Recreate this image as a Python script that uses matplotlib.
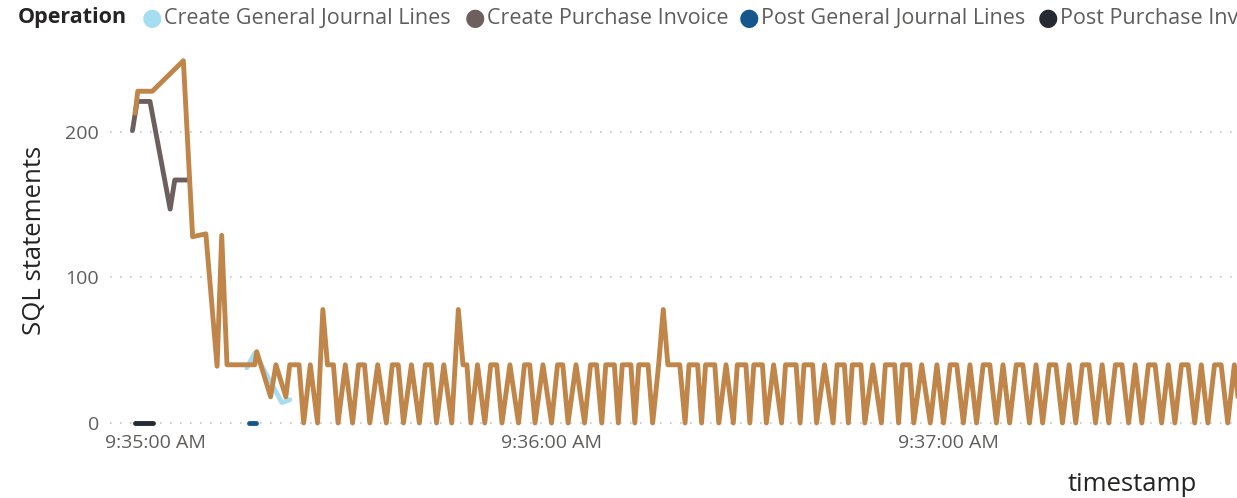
import matplotlib
matplotlib.use("Agg")
import matplotlib.pyplot as plt

plt.rcParams["font.family"] = ["Open Sans", "DejaVu Sans"]

# seconds after 9:35:00 AM
cpi_secs = [-3.4, -2.7, -0.75, 2.3, 3.0, 4.9]
cpi_sql = [201, 221, 221, 147, 167, 167]

cgj_secs = [13.9, 15.1, 19.2, 20.4]
cgj_sql = [38, 48, 14, 16]

pgj_secs = [14.2, 15.3]
pgj_sql = [0, 0]

ppi_secs = [-3.0, -0.3]
ppi_sql = [0, 0]

# the brown series (its legend entry is cut off at the right edge)
other_secs = [
    -3.0, -2.6, -0.4, 4.3, 5.7, 7.7, 9.4, 10.1, 10.9, 15.1, 15.4, 17.5, 18.3, 19.8, 20.4, 21.8, 22.5,
    23.5, 24.6, 25.4, 26.1, 27.0, 27.7, 28.8, 29.9, 30.8, 31.7, 32.5, 33.7, 35.0, 35.9, 36.8, 37.6,
    38.8, 40.0, 40.9, 41.8, 42.6, 43.7, 44.9, 45.9, 46.6, 47.2, 47.8, 48.8, 49.9, 50.8, 51.7, 52.5,
    53.7, 55.0, 55.9, 56.7, 57.5, 58.7, 60.0, 60.9, 61.7, 62.5, 63.7, 65.0, 65.9, 66.8, 67.6,
    68.2, 69.5, 70.1, 70.7, 72.0, 72.6, 73.2, 74.6, 75.3, 76.2, 76.9, 77.6, 79.4, 80.2, 80.8, 82.1,
    82.7, 83.3, 84.7, 85.3, 86.4, 87.5, 88.1, 89.4, 90.0, 90.6, 91.9, 92.5, 93.6, 94.8, 95.4, 97.0,
    97.6, 98.2, 99.5, 100.1, 101.3, 102.6, 103.2, 104.3, 104.9, 105.5, 106.8, 107.4, 108.6, 109.9,
    110.5, 111.9, 112.5, 113.1, 114.2, 114.8, 116.0, 117.3,
    118.3, 119.3, 120.3, 121.3, 122.3, 123.3, 124.3, 125.3, 126.3, 127.3, 128.3, 129.3, 130.3, 131.3,
    132.3, 133.3, 134.3, 135.3, 136.3, 137.3, 138.3, 139.3, 140.3, 141.3, 142.3, 143.3, 144.3, 145.3,
    146.3, 147.3, 148.3, 149.3, 150.3, 151.3, 152.3, 153.3, 154.3, 155.3, 156.3, 157.3, 158.3, 159.3,
    160.3, 161.3, 162.3, 163.3, 164.3, 165.3,
]
other_sql = [
    213, 228, 228, 249, 128, 130, 39, 129, 40, 40, 49, 18, 40, 18, 40, 40, 0,
    40, 0, 78, 40, 40, 0, 40, 0, 40, 40, 0, 40, 0, 40, 40, 0,
    40, 0, 40, 40, 0, 40, 0, 78, 40, 40, 0, 40, 0, 40, 40, 0,
    40, 0, 40, 40, 0, 40, 0, 40, 40, 0, 40, 0, 40, 40, 0,
    40, 40, 0, 40, 40, 0, 40, 40, 0, 40, 78, 40, 40, 0, 40, 40,
    0, 40, 40, 0, 40, 0, 40, 40, 0, 40, 40, 0, 40, 0, 40, 40,
    0, 40, 40, 0, 40, 0, 40, 40, 0, 40, 40, 0, 40, 0,
    40, 40, 0, 40, 40, 0, 40, 0,
    40, 0, 40, 40, 0, 40, 0, 40, 40, 0, 40, 0, 40, 40,
    0, 40, 0, 40, 40, 0, 40, 0, 40, 40, 0, 40, 0, 40,
    40, 0, 40, 0, 40, 40, 0, 40, 0, 40, 40, 0, 40, 0,
    40, 40, 0, 40, 0, 40,
]

tick_secs = [0, 60, 120]
tick_labels = ["9:35:00 AM", "9:36:00 AM", "9:37:00 AM"]
y_ticks = [0, 100, 200]

legend_names = ["Create General Journal Lines", "Create Purchase Invoice",
                "Post General Journal Lines", "Post Purchase Invoice"]
legend_colors = ["#A6DDF0", "#6E5F5F", "#15568C", "#252A33"]
other_color = "#BF8549"

W, H = 1237, 498
fig = plt.figure(figsize=(W / 100, H / 100), dpi=100)
ax = fig.add_axes([110 / W, 1 - 428.8 / H, 1127 / W, 384.1 / H])

kw = dict(lw=3.5, solid_joinstyle="round", solid_capstyle="round")
ax.plot(ppi_secs, ppi_sql, color=legend_colors[3], zorder=2, **kw)
ax.plot(pgj_secs, pgj_sql, color=legend_colors[2], zorder=2, **kw)
ax.plot(cpi_secs, cpi_sql, color=legend_colors[1], zorder=3, **kw)
ax.plot(cgj_secs, cgj_sql, color=legend_colors[0], zorder=3, **kw)
ax.plot(other_secs, other_sql, color=other_color, zorder=4, **kw)

ax.set_xlim(-6.8, 163.7)
ax.set_ylim(-4, 260)
ax.set_xticks(tick_secs)
ax.set_xticklabels(tick_labels)
ax.set_yticks(y_ticks)
ax.tick_params(length=0, labelsize=14, colors="#605E5C")
ax.tick_params(axis="x", pad=3.5)
ax.tick_params(axis="y", pad=8)
ax.grid(axis="y", color="#C8C6C4", linestyle=(0, (1, 5)), lw=1.2)
for s in ax.spines.values():
    s.set_visible(False)

ax.set_ylabel("SQL statements", fontsize=18.5, color="#252423")
ax.yaxis.set_label_coords((47 - 110) / 1127, 0.49)
fig.text(1132 / W, 1 - 484 / H, "timestamp", fontsize=18.5, color="#252423",
         ha="center", va="center")

# legend row across the top
ly = 1 - 18 / H
fig.text(18 / W, ly, "Operation", fontsize=15.5, fontweight="bold",
         color="#252423", ha="left", va="center")
legend_x = [152, 475, 749, 1048]
for x, name, c in zip(legend_x, legend_names, legend_colors):
    fig.text(x / W, ly, "\u25CF", fontsize=17, color=c, ha="center", va="center",
             family="DejaVu Sans")
    fig.text((x + 12) / W, ly, name, fontsize=15.5, color="#605E5C",
             ha="left", va="center")

fig.savefig("out.png", dpi=100)
